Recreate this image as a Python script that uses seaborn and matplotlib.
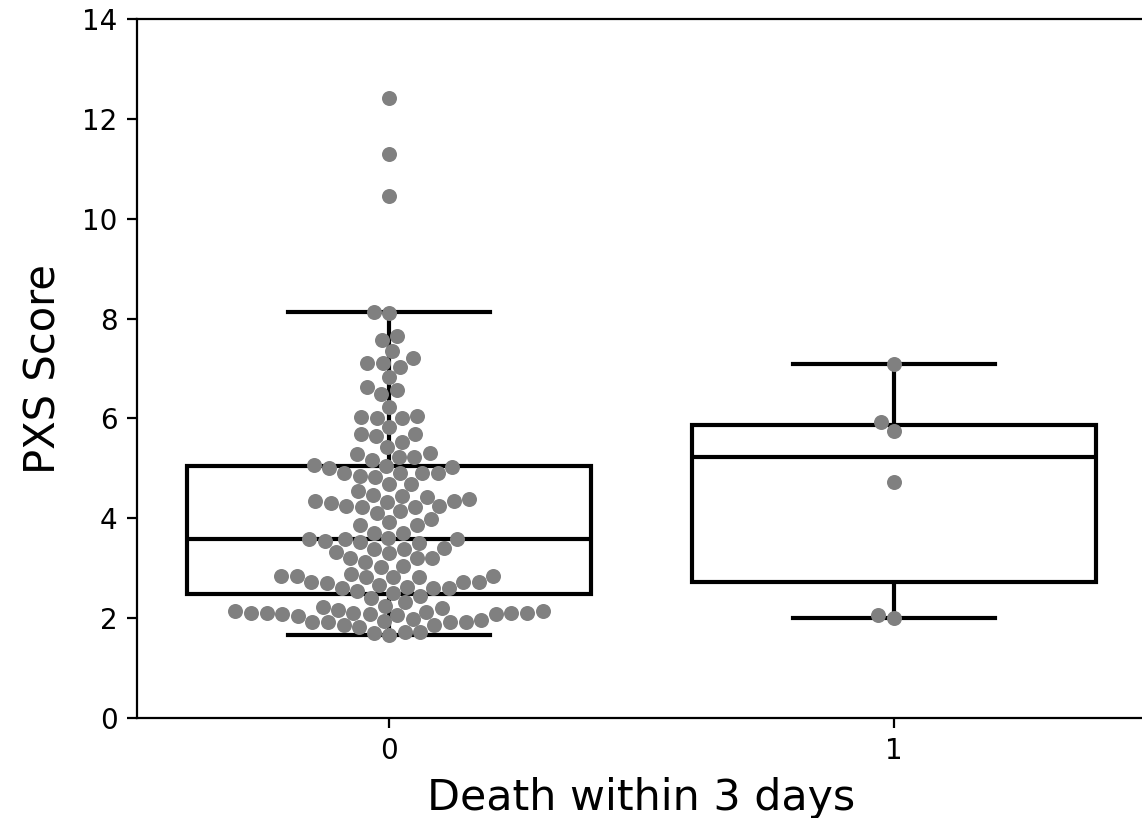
import matplotlib
matplotlib.use("Agg")
import matplotlib.pyplot as plt
import seaborn as sns
import pandas as pd

# ---- data ----
categories = ["0", "1"]

scores_0 = [
    12.42, 11.30, 10.45,
    8.13, 8.11, 7.65, 7.57, 7.35, 7.21, 7.11, 7.11, 7.03, 6.83, 6.63, 6.57,
    6.49, 6.23, 6.05, 6.03, 6.01, 6.01, 5.83, 5.69, 5.69, 5.65, 5.53, 5.43,
    5.31, 5.29, 5.23, 5.23, 5.17, 5.07, 5.05, 5.03, 5.01, 4.91, 4.91, 4.91,
    4.91, 4.85, 4.83,
    4.69, 4.69, 4.55, 4.47, 4.45, 4.43, 4.39, 4.35, 4.35, 4.33, 4.31, 4.25,
    4.25, 4.23, 4.23, 4.15, 4.11, 3.99, 3.93, 3.87, 3.87, 3.71, 3.71, 3.61,
    3.59, 3.59, 3.59, 3.55, 3.53, 3.51, 3.41, 3.39, 3.39, 3.33, 3.31, 3.21,
    3.21, 3.21, 3.13, 3.05, 3.03, 2.89, 2.85, 2.85, 2.85, 2.83, 2.83, 2.83,
    2.73, 2.73, 2.73, 2.71, 2.67, 2.63, 2.61, 2.61, 2.61, 2.55, 2.51, 2.45,
    2.41, 2.33, 2.25, 2.23, 2.21, 2.17, 2.15, 2.15, 2.13, 2.11, 2.11, 2.11,
    2.11, 2.11, 2.09, 2.09, 2.09, 2.07, 2.05, 1.99, 1.97, 1.95, 1.93, 1.93,
    1.93, 1.93, 1.87, 1.87, 1.83, 1.73, 1.73, 1.71, 1.67,
]
scores_1 = [7.10, 5.92, 5.75, 4.72, 2.06, 2.00]

y_ticks = [0, 2, 4, 6, 8, 10, 12, 14]
x_label = "Death within 3 days"
y_label = "PXS Score"

df = pd.DataFrame({
    "death": [categories[0]] * len(scores_0) + [categories[1]] * len(scores_1),
    "score": scores_0 + scores_1,
})

# ---- figure ----
W, H, DPI = 1142, 818, 200
fig = plt.figure(figsize=(W / DPI, H / DPI), dpi=DPI)
ax = fig.add_axes([137 / W, 1 - 718 / H, (1146 - 137) / W, (718 - 19) / H])

line_kw = dict(color="black", linewidth=1.5)
sns.boxplot(
    data=df, x="death", y="score", order=categories, ax=ax,
    showfliers=False, width=0.8,
    boxprops=dict(facecolor="white", edgecolor="black", linewidth=1.5),
    medianprops=line_kw, whiskerprops=line_kw, capprops=line_kw,
)
sns.swarmplot(
    data=df, x="death", y="score", order=categories, ax=ax,
    color="#808080", size=5.4,
)

ax.set_ylim(0, 14)
ax.set_xlim(-0.5, 1.5)
ax.set_yticks(y_ticks)
ax.tick_params(labelsize=10)
ax.set_xlabel(x_label, fontsize=15.4)
ax.set_ylabel(y_label, fontsize=15, labelpad=6.5)

fig.savefig("out.png", dpi=DPI)
